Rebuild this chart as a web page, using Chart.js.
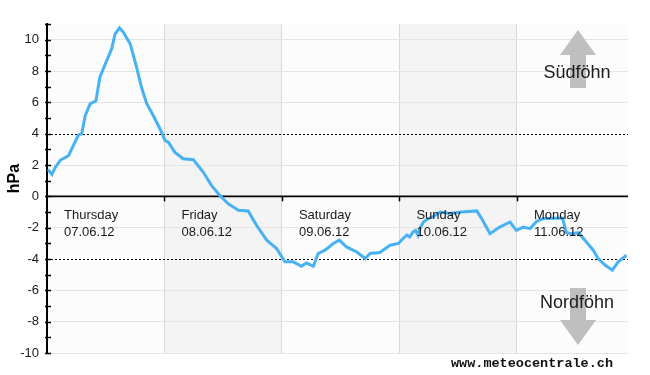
<!DOCTYPE html>
<html>
<head>
<meta charset="utf-8">
<script src="https://cdn.jsdelivr.net/npm/chart.js@4/dist/chart.umd.min.js"></script>
<style>
html,body{margin:0;padding:0;background:#fff;}
canvas{display:block;}
</style>
</head>
<body>
<canvas id="c" width="650" height="375"></canvas>
<script>
// Time in hours since Thursday 07.06.12 00:00
const hours = [0.2,1.0,1.6,2.7,4.4,5.4,6.4,7.1,7.8,8.8,10.0,10.8,12.2,13.2,13.9,14.8,15.6,17.0,18.3,19.3,20.4,21.7,23.1,24.1,24.8,26.1,27.8,29.9,31.9,33.6,35.3,37.0,39.1,41.1,42.8,44.9,46.9,48.6,50.3,52.0,53.0,54.4,55.4,56.8,58.5,59.7,61.2,63.3,65.0,66.0,68.0,70.1,71.8,72.4,73.5,74.1,74.8,75.3,75.8,76.2,76.9,77.9,78.9,80.3,82.3,84.7,87.8,88.8,90.5,92.5,94.6,95.6,95.9,97.3,98.7,100.0,101.4,103.8,105.3,106.1,107.0,108.6,109.6,111.6,112.6,114.0,115.5,116.7,118.4];
const hpa   = [1.72,1.40,1.80,2.30,2.60,3.25,3.90,4.00,5.15,5.90,6.10,7.60,8.66,9.40,10.36,10.75,10.47,9.73,8.24,6.96,5.90,5.16,4.30,3.57,3.46,2.82,2.40,2.34,1.55,0.70,0.06,-0.47,-0.89,-0.93,-1.85,-2.80,-3.33,-4.18,-4.18,-4.46,-4.25,-4.46,-3.65,-3.44,-3.01,-2.80,-3.23,-3.55,-3.97,-3.65,-3.59,-3.12,-3.01,-2.80,-2.48,-2.59,-2.27,-2.17,-2.48,-2.06,-1.64,-1.42,-1.30,-1.00,-1.10,-1.00,-0.93,-1.42,-2.38,-1.96,-1.64,-2.06,-2.17,-1.96,-2.06,-1.60,-1.42,-1.40,-1.38,-2.30,-2.38,-2.32,-2.69,-3.44,-3.97,-4.39,-4.71,-4.18,-3.76];
const dayNames = ['Thursday','Friday','Saturday','Sunday','Monday'];
const dayDates = ['07.06.12','08.06.12','09.06.12','10.06.12','11.06.12'];
const yTicks = [-10,-8,-6,-4,-2,0,2,4,6,8,10];
const thresholds = [4,-4];
const labelUp = 'Südföhn';
const labelDown = 'Nordföhn';
const yTitle = 'hPa';
const credit = 'www.meteocentrale.ch';

const FONT = '"Liberation Sans", Arial, sans-serif';

const decor = {
  id: 'decor',
  beforeDraw(chart) {
    const {ctx, chartArea: a, scales: {x, y}} = chart;
    ctx.save();
    ctx.fillStyle = '#ffffff';
    ctx.fillRect(0, 0, chart.width, chart.height);
    for (let d = 0; d < 5; d++) {
      const x0 = Math.max(a.left, x.getPixelForValue(d * 24));
      const x1 = Math.min(a.right, x.getPixelForValue((d + 1) * 24));
      ctx.fillStyle = (d % 2 === 1) ? '#f4f4f4' : '#fcfcfc';
      ctx.fillRect(x0, a.top, x1 - x0, a.bottom - a.top);
    }
    ctx.restore();
  },
  beforeDatasetsDraw(chart) {
    const {ctx, chartArea: a, scales: {x, y}} = chart;
    ctx.save();
    // dotted thresholds
    ctx.strokeStyle = '#000';
    ctx.lineWidth = 1;
    ctx.setLineDash([2, 2]);
    thresholds.forEach(v => {
      const py = Math.round(y.getPixelForValue(v)) + 0.5;
      ctx.beginPath(); ctx.moveTo(a.left, py); ctx.lineTo(a.right, py); ctx.stroke();
    });
    ctx.setLineDash([]);
    // zero axis line
    const y0 = y.getPixelForValue(0);
    ctx.lineWidth = 1.6;
    ctx.beginPath(); ctx.moveTo(a.left, y0); ctx.lineTo(a.right, y0); ctx.stroke();
    // day ticks
    ctx.lineWidth = 1.5;
    for (let d = 1; d < 5; d++) {
      const px = Math.round(x.getPixelForValue(d * 24)) + 0.5;
      ctx.beginPath(); ctx.moveTo(px, y0); ctx.lineTo(px, y0 + 5); ctx.stroke();
    }
    // y minor ticks
    ctx.lineWidth = 1.5;
    for (let v = -10; v <= 11; v++) {
      const py = Math.round(y.getPixelForValue(v)) + 0.5;
      ctx.beginPath(); ctx.moveTo(a.left - 2, py); ctx.lineTo(a.left + 4, py); ctx.stroke();
    }
    // arrows
    const cx = a.right - 50;
    ctx.fillStyle = '#bfbfbf';
    const yTip = a.top + 6, yHead = a.top + 31, yEnd = a.top + 64;
    ctx.beginPath();
    ctx.moveTo(cx, yTip); ctx.lineTo(cx + 18, yHead); ctx.lineTo(cx + 8, yHead);
    ctx.lineTo(cx + 8, yEnd); ctx.lineTo(cx - 8, yEnd); ctx.lineTo(cx - 8, yHead);
    ctx.lineTo(cx - 18, yHead); ctx.closePath(); ctx.fill();
    const dTip = a.bottom - 8, dHead = a.bottom - 33, dEnd = a.bottom - 65;
    ctx.beginPath();
    ctx.moveTo(cx, dTip); ctx.lineTo(cx + 18, dHead); ctx.lineTo(cx + 8, dHead);
    ctx.lineTo(cx + 8, dEnd); ctx.lineTo(cx - 8, dEnd); ctx.lineTo(cx - 8, dHead);
    ctx.lineTo(cx - 18, dHead); ctx.closePath(); ctx.fill();
    ctx.restore();
  },
  afterDatasetsDraw(chart) {
    const {ctx, chartArea: a, scales: {x, y}} = chart;
    ctx.save();
    const y0 = y.getPixelForValue(0);
    ctx.fillStyle = '#1a1a1a';
    ctx.font = '13px ' + FONT;
    ctx.textAlign = 'left';
    ctx.textBaseline = 'middle';
    for (let d = 0; d < 5; d++) {
      const px = x.getPixelForValue(d * 24) + 17;
      ctx.fillText(dayNames[d], px, y0 + 19);
      ctx.fillText(dayDates[d], px, y0 + 36);
    }
    const cx = a.right - 51;
    ctx.font = '18px ' + FONT;
    ctx.textAlign = 'center';
    ctx.fillText(labelUp, cx, a.top + 49);
    ctx.fillText(labelDown, cx, a.bottom - 50);
    // y title
    ctx.save();
    ctx.translate(15, (a.top + a.bottom) / 2 - 10);
    ctx.rotate(-Math.PI / 2);
    ctx.font = 'bold 16px ' + FONT;
    ctx.fillStyle = '#000';
    ctx.textAlign = 'center';
    ctx.textBaseline = 'middle';
    ctx.fillText(yTitle, 0, 0);
    ctx.restore();
    // credit
    ctx.font = 'bold 13.5px "Liberation Mono", "DejaVu Sans Mono", monospace';
    ctx.fillStyle = '#111';
    ctx.textAlign = 'right';
    ctx.textBaseline = 'middle';
    ctx.fillText(credit, a.right - 15, chart.height - 11);
    ctx.restore();
  }
};

new Chart(document.getElementById('c'), {
  type: 'line',
  data: {
    datasets: [{
      data: hours.map((h, i) => ({x: h, y: hpa[i]})),
      borderColor: '#47b2f3',
      borderWidth: 3,
      pointRadius: 0,
      tension: 0,
      fill: false
    }]
  },
  options: {
    responsive: false,
    devicePixelRatio: 1,
    animation: false,
    layout: {padding: {left: 0, top: 24, right: 22, bottom: 22}},
    plugins: {legend: {display: false}, tooltip: {enabled: false}},
    scales: {
      x: {
        type: 'linear', min: 0, max: 118.7,
        ticks: {display: false, stepSize: 24},
        border: {display: false},
        grid: {
          drawTicks: false,
          color: c => (c.tick && c.tick.value > 0 && c.tick.value < 118 && c.tick.value % 24 === 0) ? '#d8d8d8' : 'rgba(0,0,0,0)'
        },
        afterFit: s => { s.height = 0; }
      },
      y: {
        min: -10, max: 11,
        afterBuildTicks: s => { s.ticks = yTicks.map(v => ({value: v})); },
        ticks: {
          autoSkip: false,
          padding: 8,
          color: '#1a1a1a',
          font: {family: FONT, size: 13},
          callback: v => String(v)
        },
        border: {display: true, color: '#000', width: 2},
        grid: {
          drawTicks: false,
          color: c => {
            const v = c.tick ? c.tick.value : null;
            if (v === 0 || v === 4 || v === -4 || v === null) return 'rgba(0,0,0,0)';
            return '#e4e4e4';
          }
        },
        afterFit: s => { s.width = 47; }
      }
    }
  },
  plugins: [decor]
});
</script>
</body>
</html>
